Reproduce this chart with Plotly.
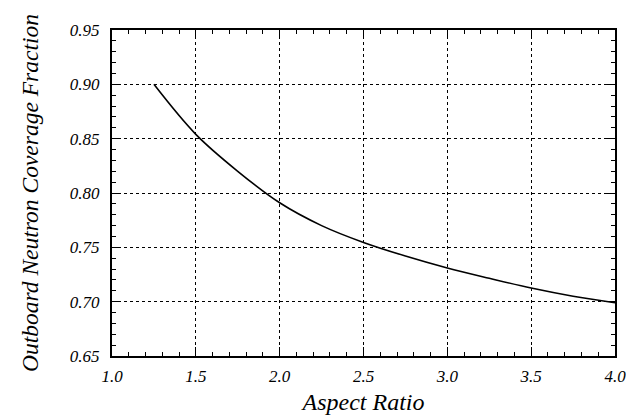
import plotly.graph_objects as go

aspect_ratio = [1.25, 1.5, 1.75, 2.0, 2.25, 2.5, 2.75, 3.0, 3.25, 3.5, 3.75, 4.0]
coverage = [0.900, 0.854, 0.820, 0.791, 0.770, 0.7545, 0.742, 0.731, 0.7215, 0.7125, 0.705, 0.699]

x_ticks = [1.0, 1.5, 2.0, 2.5, 3.0, 3.5, 4.0]
y_ticks = [0.65, 0.70, 0.75, 0.80, 0.85, 0.90, 0.95]

font_family = "Liberation Serif, Times New Roman, serif"

fig = go.Figure()
fig.add_trace(go.Scatter(
    x=aspect_ratio, y=coverage, mode="lines",
    line=dict(color="black", width=1.6, shape="spline", smoothing=1.0),
    showlegend=False,
))

axis_common = dict(
    showline=True, linecolor="black", linewidth=2, mirror="allticks",
    ticks="inside", ticklen=9, tickwidth=1, tickcolor="black",
    showgrid=True, gridcolor="black", gridwidth=1, griddash="dot",
    zeroline=False, automargin=False,
    tickfont=dict(family=font_family, size=17, color="black", style="italic"),
)

fig.update_xaxes(
    range=[1.0, 4.0], tickvals=x_ticks, ticktext=[f"{v:.1f}" for v in x_ticks],
    minor=dict(dtick=0.1, ticks="inside", ticklen=4, tickcolor="black", tickwidth=1, showgrid=False),
    ticklabelstandoff=4,
    title=dict(text="Aspect Ratio", standoff=8,
               font=dict(family=font_family, size=24, color="black", style="italic")),
    **axis_common,
)
fig.update_yaxes(
    range=[0.65, 0.95], tickvals=y_ticks, ticktext=[f"{v:.2f}" for v in y_ticks],
    minor=dict(dtick=0.01, ticks="inside", ticklen=4, tickcolor="black", tickwidth=1, showgrid=False),
    ticklabelstandoff=7,
    title=dict(text="Outboard Neutron Coverage Fraction", standoff=25,
               font=dict(family=font_family, size=23.5, color="black", style="italic")),
    **axis_common,
)

fig.update_layout(
    width=626, height=410,
    margin=dict(l=104, r=19, t=22, b=62),
    paper_bgcolor="white", plot_bgcolor="white",
)

fig.write_html("out.html")
